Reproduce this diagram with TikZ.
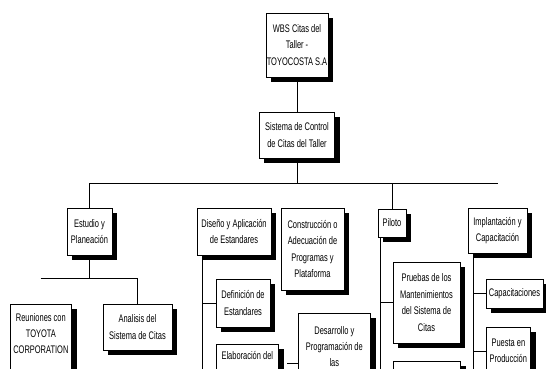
\documentclass[tikz,border=0pt]{standalone}
\usepackage{fontspec}
\newfontfamily\wbsfont{Liberation Sans}[FakeStretch=0.68]
\usetikzlibrary{calc}

\begin{document}
\begin{tikzpicture}[x=1pt, y=-1pt,
    wbsbox/.style={draw, fill=white, line width=0.7pt, inner sep=0pt, align=center,
      font=\wbsfont\fontsize{11}{16.5}\selectfont},
    cutbox/.style={wbsbox, anchor=north west},
    lbl/.style={anchor=north, align=center, inner sep=0pt,
      font=\wbsfont\fontsize{11}{16}\selectfont},
    conn/.style={line width=0.7pt},
  ]
  \useasboundingbox (0,0) rectangle (546,369);

  % Level 1: project
  \node[wbsbox, minimum width=62pt, minimum height=64pt] (wbs) at (297,45)
    {WBS Citas del\\Taller -\\TOYOCOSTA S.A};
  \fill[black] ($(wbs.north east)+(0,5)$) rectangle ($(wbs.south east)+(5,5)$);
  \fill[black] ($(wbs.south west)+(5,0)$) rectangle ($(wbs.south east)+(5,5)$);
  \node[wbsbox, minimum width=75pt, minimum height=46pt] (sys) at (297,135)
    {Sistema de Control\\de Citas del Taller};
  \fill[black] ($(sys.north east)+(0,5)$) rectangle ($(sys.south east)+(5,5)$);
  \fill[black] ($(sys.south west)+(5,0)$) rectangle ($(sys.south east)+(5,5)$);

  % Level 2: phases
  \node[wbsbox, minimum width=45pt, minimum height=47pt] (estudio) at (89.5,231.5)
    {Estudio y\\Planeación};
  \fill[black] ($(estudio.north east)+(0,5)$) rectangle ($(estudio.south east)+(5,5)$);
  \fill[black] ($(estudio.south west)+(5,0)$) rectangle ($(estudio.south east)+(5,5)$);
  \node[wbsbox, minimum width=74pt, minimum height=47pt] (diseno) at (234,231.5)
    {Diseño y Aplicación\\de Estandares};
  \fill[black] ($(diseno.north east)+(0,5)$) rectangle ($(diseno.south east)+(5,5)$);
  \fill[black] ($(diseno.south west)+(5,0)$) rectangle ($(diseno.south east)+(5,5)$);
  \node[wbsbox, minimum width=63pt, minimum height=82pt] (constr) at (312.5,249)
    {Construcción o\\Adecuación de\\Programas y\\Plataforma};
  \fill[black] ($(constr.north east)+(0,5)$) rectangle ($(constr.south east)+(5,5)$);
  \fill[black] ($(constr.south west)+(5,0)$) rectangle ($(constr.south east)+(5,5)$);
  \node[wbsbox, minimum width=28pt, minimum height=28pt] (piloto) at (392,223)
    {Piloto};
  \fill[black] ($(piloto.north east)+(0,5)$) rectangle ($(piloto.south east)+(5,5)$);
  \fill[black] ($(piloto.south west)+(5,0)$) rectangle ($(piloto.south east)+(5,5)$);
  \node[wbsbox, minimum width=59pt, minimum height=45pt] (implant) at (497.5,230.5)
    {Implantación y\\Capacitación};
  \fill[black] ($(implant.north east)+(0,5)$) rectangle ($(implant.south east)+(5,5)$);
  \fill[black] ($(implant.south west)+(5,0)$) rectangle ($(implant.south east)+(5,5)$);

  % Level 3: work packages (the lower ones run off the page)
  \node[cutbox, minimum width=61pt, minimum height=66pt,
    label={[lbl, yshift=-9pt]north:Reuniones con\\TOYOTA\\CORPORATION}]
    (reuniones) at (10,304) {};
  \fill[black] ($(reuniones.north east)+(0,5)$) rectangle ($(reuniones.south east)+(5,0)$);
  \node[wbsbox, minimum width=69pt, minimum height=46pt] (analisis) at (137.5,327)
    {Analisis del\\Sistema de Citas};
  \fill[black] ($(analisis.north east)+(0,5)$) rectangle ($(analisis.south east)+(5,5)$);
  \fill[black] ($(analisis.south west)+(5,0)$) rectangle ($(analisis.south east)+(5,5)$);
  \node[wbsbox, minimum width=54pt, minimum height=48pt] (definicion) at (243,303)
    {Definición de\\Estandares};
  \fill[black] ($(definicion.north east)+(0,5)$) rectangle ($(definicion.south east)+(5,5)$);
  \fill[black] ($(definicion.south west)+(5,0)$) rectangle ($(definicion.south east)+(5,5)$);
  \node[cutbox, minimum width=62pt, minimum height=26pt,
    label={[lbl, yshift=-7pt]north:Elaboración del}]
    (elaboracion) at (216,344) {};
  \fill[black] ($(elaboracion.north east)+(0,5)$) rectangle ($(elaboracion.south east)+(5,0)$);
  \node[cutbox, minimum width=72pt, minimum height=57pt,
    label={[lbl, yshift=-13pt]north:Desarrollo y\\Programación de\\las}]
    (desarrollo) at (298,313) {};
  \fill[black] ($(desarrollo.north east)+(0,5)$) rectangle ($(desarrollo.south east)+(5,0)$);
  \node[wbsbox, minimum width=67pt, minimum height=81pt] (pruebas) at (426.5,302.5)
    {Pruebas de los\\Mantenimientos\\del Sistema de\\Citas};
  \fill[black] ($(pruebas.north east)+(0,5)$) rectangle ($(pruebas.south east)+(5,5)$);
  \fill[black] ($(pruebas.south west)+(5,0)$) rectangle ($(pruebas.south east)+(5,5)$);
  \node[cutbox, minimum width=67pt, minimum height=9pt] (pruebasb) at (393,361) {};
  \fill[black] ($(pruebasb.north east)+(0,5)$) rectangle ($(pruebasb.south east)+(5,0)$);
  \node[wbsbox, minimum width=57pt, minimum height=29pt] (capacit) at (514.5,293.5)
    {Capacitaciones};
  \fill[black] ($(capacit.north east)+(0,5)$) rectangle ($(capacit.south east)+(5,5)$);
  \fill[black] ($(capacit.south west)+(5,0)$) rectangle ($(capacit.south east)+(5,5)$);
  \node[cutbox, minimum width=44pt, minimum height=43pt,
    label={[lbl, yshift=-12pt]north:Puesta en\\Producción}]
    (puesta) at (486,327) {};
  \fill[black] ($(puesta.north east)+(0,5)$) rectangle ($(puesta.south east)+(5,0)$);

  % Connectors
  \coordinate (pgend) at (0,369);
  \coordinate (barL) at (89.5,183);
  \coordinate (barR) at (498,183);
  \draw[conn] (wbs.south) -- (sys.north);
  \draw[conn] (sys.south) -- (sys.south |- barL);
  \draw[conn] (barL) -- (barR);
  \draw[conn] (barL) -- (estudio.north);
  \draw[conn] (piloto.north |- barL) -- (piloto.north);

  \coordinate (estL) at (40.5,278);
  \draw[conn] (estudio.south) -- (estudio.south |- estL);
  \draw[conn] (estL) -- (analisis.north |- estL) -- (analisis.north);

  \coordinate (disV) at ($(diseno.south west)+(6,0)$);
  \draw[conn] (disV) -- (disV |- pgend);
  \draw[conn] (disV |- definicion.west) -- (definicion.west);

  \coordinate (desW) at ($(desarrollo.north west)+(0,50)$);
  \coordinate (desL) at ($(desW)+(-11,0)$);
  \draw[conn] (desL) -- (desW);

  \coordinate (pilV) at ($(piloto.south west)+(3,0)$);
  \draw[conn] (pilV) -- (pilV |- pgend);
  \draw[conn] (pilV |- pruebas.west) -- (pruebas.west);

  \coordinate (impV) at ($(implant.south west)+(6,0)$);
  \coordinate (puestaW) at ($(puesta.north west)+(0,24)$);
  \draw[conn] (impV) -- (impV |- pgend);
  \draw[conn] (impV |- capacit.west) -- (capacit.west);
  \draw[conn] (impV |- puestaW) -- (puestaW);
\end{tikzpicture}
\end{document}
